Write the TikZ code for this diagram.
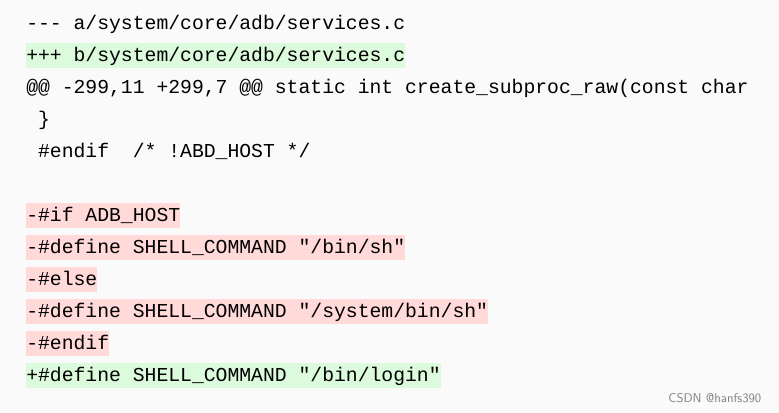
\documentclass[tikz,border=0pt]{standalone}
\usepackage{fontspec}
\setmonofont{Liberation Mono}
\usetikzlibrary{positioning}
\definecolor{addbg}{HTML}{DCFADC}
\definecolor{delbg}{HTML}{FFDAD8}
\definecolor{pagebg}{HTML}{FAFAFA}

\begin{document}
\begin{tikzpicture}[
  x=0.75pt, y=-0.75pt,
  font=\fontsize{14.8}{17}\selectfont\ttfamily,
  line/.style={anchor=west, inner xsep=0pt, inner ysep=0.5pt, text height=13pt, text depth=4.5pt},
  add/.style={line, fill=addbg},
  del/.style={line, fill=delbg}
]
\fill[pagebg] (0,0) rectangle (779,413);
\useasboundingbox (0,0) rectangle (779,413);
\node[line] (l1) at (26,23.5) {-{}-{}- a/system/core/adb/services.c};
\node[add] (l2) at (26,55.5) {+++ b/system/core/adb/services.c};
\node[line] (l3) at (26,87.5) {@@ -299,11 +299,7 @@ static int create\_subproc\_raw(const char};
\node[line] (l4) at (26,119.5) {\ \}};
\node[line] (l5) at (26,151.5) {\ \#endif\ \ /* !ABD\_HOST */};
\node[del] (l6) at (26,215.5) {-\#if ADB\_HOST};
\node[del] (l7) at (26,247.5) {-\#define SHELL\_COMMAND "/bin/sh"};
\node[del] (l8) at (26,279.5) {-\#else};
\node[del] (l9) at (26,311.5) {-\#define SHELL\_COMMAND "/system/bin/sh"};
\node[del] (l10) at (26,343.5) {-\#endif};
\node[add] (l11) at (26,375.5) {+\#define SHELL\_COMMAND "/bin/login"};
\node[anchor=east, text=gray, font=\sffamily\fontsize{9.5}{11}\selectfont] (mark) at (766,398) {CSDN @hanfs390};
\end{tikzpicture}
\end{document}
